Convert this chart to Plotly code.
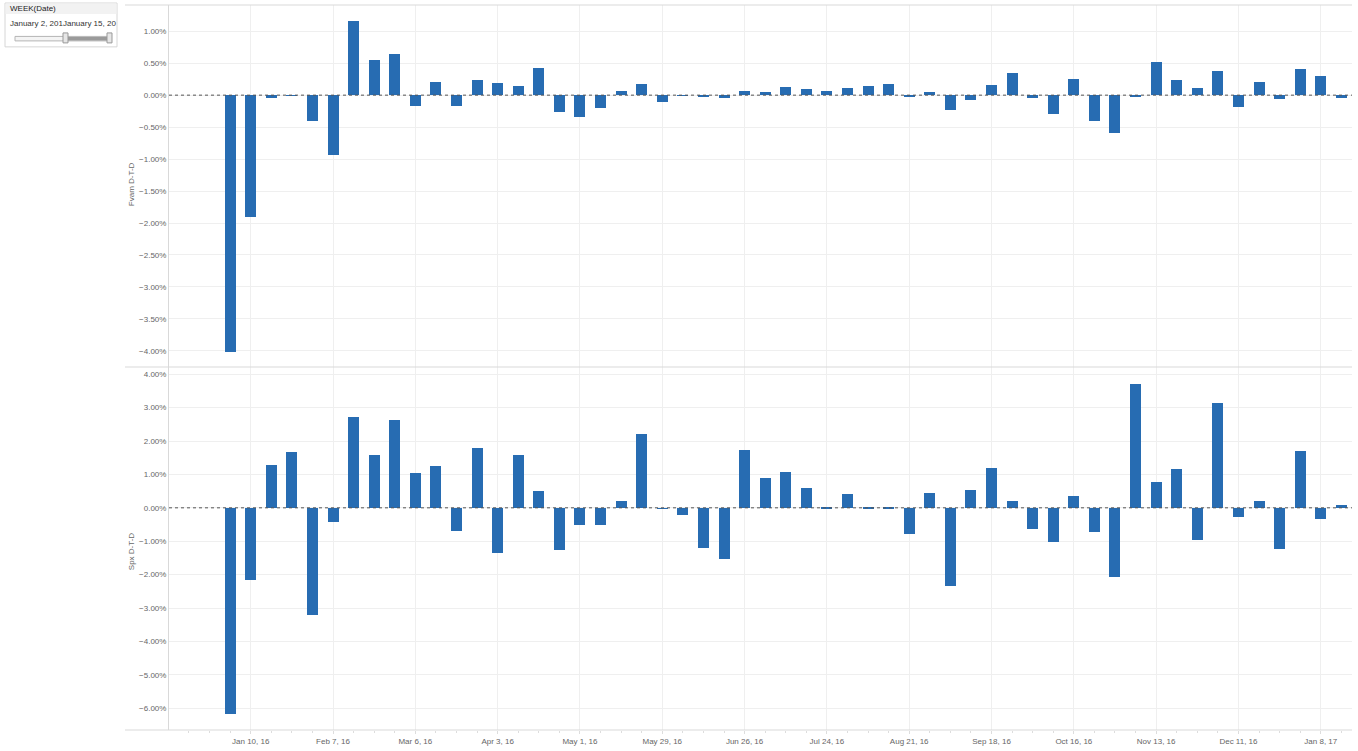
import plotly.graph_objects as go
from plotly.subplots import make_subplots

# ---------------- data ----------------
weeks = [
    "2016-01-03", "2016-01-10", "2016-01-17", "2016-01-24", "2016-01-31",
    "2016-02-07", "2016-02-14", "2016-02-21", "2016-02-28", "2016-03-06",
    "2016-03-13", "2016-03-20", "2016-03-27", "2016-04-03", "2016-04-10",
    "2016-04-17", "2016-04-24", "2016-05-01", "2016-05-08", "2016-05-15",
    "2016-05-22", "2016-05-29", "2016-06-05", "2016-06-12", "2016-06-19",
    "2016-06-26", "2016-07-03", "2016-07-10", "2016-07-17", "2016-07-24",
    "2016-07-31", "2016-08-07", "2016-08-14", "2016-08-21", "2016-08-28",
    "2016-09-04", "2016-09-11", "2016-09-18", "2016-09-25", "2016-10-02",
    "2016-10-09", "2016-10-16", "2016-10-23", "2016-10-30", "2016-11-06",
    "2016-11-13", "2016-11-20", "2016-11-27", "2016-12-04", "2016-12-11",
    "2016-12-18", "2016-12-25", "2017-01-01", "2017-01-08", "2017-01-15",
]

# weekly day-to-day change, in percent
fvam_pct = [
    -4.01, -1.91, -0.04, -0.01, -0.40, -0.94, 1.16, 0.55, 0.65, -0.17,
    0.20, -0.17, 0.24, 0.19, 0.14, 0.43, -0.27, -0.34, -0.20, 0.06,
    0.17, -0.10, -0.005, -0.03, -0.05, 0.07, 0.05, 0.13, 0.09, 0.06,
    0.11, 0.15, 0.17, -0.03, 0.05, -0.23, -0.07, 0.16, 0.35, -0.04,
    -0.30, 0.26, -0.41, -0.59, -0.02, 0.52, 0.24, 0.11, 0.38, -0.18,
    0.20, -0.06, 0.41, 0.30, -0.04,
]
spx_pct = [
    -6.16, -2.16, 1.30, 1.69, -3.19, -0.41, 2.73, 1.59, 2.64, 1.05,
    1.28, -0.67, 1.81, -1.33, 1.59, 0.51, -1.24, -0.50, -0.50, 0.21,
    2.23, -0.01, -0.19, -1.19, -1.52, 1.76, 0.91, 1.10, 0.61, 0.01,
    0.43, 0.02, 0.01, -0.78, 0.45, -2.33, 0.54, 1.21, 0.21, -0.62,
    -1.01, 0.36, -0.71, -2.05, 3.71, 0.80, 1.19, -0.94, 3.16, -0.25,
    0.23, -1.21, 1.72, -0.32, 0.09,
]

fvam_ticks_pct = [1.0, 0.5, 0.0, -0.5, -1.0, -1.5, -2.0, -2.5, -3.0, -3.5, -4.0]
spx_ticks_pct = [4.0, 3.0, 2.0, 1.0, 0.0, -1.0, -2.0, -3.0, -4.0, -5.0, -6.0]

filter_title = "WEEK(Date)"
filter_text = "January 2, 201January 15, 20"

# ---------------- styling ----------------
W, H = 1358, 751
ML, MR, MT, MB = 169, 6, 5, 19
PW, PH = W - ML - MR, H - MT - MB
BAR = "#276cb2"
GRID = "#efefef"
LINE = "#d9d9d9"
TXT = "#666666"
FONT = "Arial, Liberation Sans, sans-serif"
DAY = 86400000


def px(xp):
    return (xp - ML) / PW


def py(yp):
    return (H - MB - yp) / PH


fig = make_subplots(rows=2, cols=1, shared_xaxes=True, vertical_spacing=0)

fig.add_trace(go.Bar(x=weeks, y=[v / 100 for v in fvam_pct], marker_color=BAR,
                     marker_line_width=0, width=3.74 * DAY, showlegend=False), row=1, col=1)
fig.add_trace(go.Bar(x=weeks, y=[v / 100 for v in spx_pct], marker_color=BAR,
                     marker_line_width=0, width=3.74 * DAY, showlegend=False), row=2, col=1)

xcommon = dict(
    type="date", range=["2015-12-13 05:00", "2017-01-18 15:00"],
    tick0="2016-01-10", dtick=28 * DAY, showgrid=True, gridcolor=GRID, gridwidth=1,
    zeroline=False, showline=False,
)
fig.update_xaxes(**xcommon, showticklabels=False, ticks="", row=1, col=1)
fig.update_xaxes(**xcommon, tickformat="%b %-d, %y", ticks="outside", ticklen=3,
                 tickcolor="#dddddd", tickfont=dict(family=FONT, size=8, color=TXT),
                 minor=dict(ticks="outside", ticklen=2, tickcolor="#dddddd",
                            tick0="2016-01-03", dtick=7 * DAY, showgrid=False),
                 row=2, col=1)

ycommon = dict(tickformat=".2%", showgrid=True, gridcolor=GRID, zeroline=False,
               showline=True, linecolor=LINE, linewidth=1, ticks="",
               tickfont=dict(family=FONT, size=8, color=TXT))
fig.update_yaxes(**ycommon, range=[-0.0426, 0.0141],
                 tickvals=[v / 100 for v in fvam_ticks_pct], row=1, col=1)
fig.update_yaxes(**ycommon, range=[-0.0665, 0.0420],
                 tickvals=[v / 100 for v in spx_ticks_pct], row=2, col=1)

shapes = []
# zero reference lines (dotted)
for yr, xr in (("y", "x"), ("y2", "x2")):
    shapes.append(dict(type="line", xref=xr + " domain", yref=yr, x0=0, x1=1, y0=0, y1=0,
                       line=dict(color="#555555", width=1, dash="dot")))
# pane borders
for yp in (MT, 368, H - MB):
    shapes.append(dict(type="line", xref="paper", yref="paper", x0=px(125), x1=1,
                       y0=py(yp), y1=py(yp), line=dict(color=LINE, width=1)))

# filter card
shapes += [
    dict(type="rect", xref="paper", yref="paper", x0=px(5), x1=px(117), y0=py(47), y1=py(3),
         line=dict(color="#d6d6d6", width=1), fillcolor="#ffffff"),
    dict(type="rect", xref="paper", yref="paper", x0=px(5.5), x1=px(116.5), y0=py(14), y1=py(3.5),
         line=dict(width=0), fillcolor="#f2f2f2"),
    dict(type="rect", xref="paper", yref="paper", x0=px(15), x1=px(111), y0=py(41), y1=py(36.5),
         line=dict(color="#b5b5b5", width=1), fillcolor="#f4f4f4"),
    dict(type="rect", xref="paper", yref="paper", x0=px(67), x1=px(108), y0=py(40.5), y1=py(37),
         line=dict(width=0), fillcolor="#9a9a9a"),
    dict(type="rect", xref="paper", yref="paper", x0=px(63), x1=px(68), y0=py(43), y1=py(33),
         line=dict(color="#999999", width=1), fillcolor="#e6e6e6"),
    dict(type="rect", xref="paper", yref="paper", x0=px(107), x1=px(112), y0=py(43), y1=py(33),
         line=dict(color="#999999", width=1), fillcolor="#e6e6e6"),
]

annotations = [
    dict(text="Fvam D-T-D", xref="paper", yref="paper", x=px(131.7), y=py(185), textangle=-90,
         showarrow=False, font=dict(family=FONT, size=8, color=TXT), xanchor="center", yanchor="middle"),
    dict(text="Spx D-T-D", xref="paper", yref="paper", x=px(131.7), y=py(553), textangle=-90,
         showarrow=False, font=dict(family=FONT, size=8, color=TXT), xanchor="center", yanchor="middle"),
    dict(text=filter_title, xref="paper", yref="paper", x=px(8), y=py(8.5), xanchor="left",
         yanchor="middle", showarrow=False, font=dict(family=FONT, size=8, color="#222222")),
    dict(text=filter_text, xref="paper", yref="paper", x=px(7.5), y=py(24), xanchor="left",
         yanchor="middle", showarrow=False, font=dict(family=FONT, size=8, color="#333333")),
]

fig.update_layout(
    width=W, height=H, margin=dict(l=ML, r=MR, t=MT, b=MB, pad=0),
    plot_bgcolor="white", paper_bgcolor="white", bargap=0,
    shapes=shapes, annotations=annotations, showlegend=False,
    font=dict(family=FONT, size=8, color=TXT),
)

fig.write_html("out.html", config={"displayModeBar": False},
               post_script="document.body.style.margin='0';")
